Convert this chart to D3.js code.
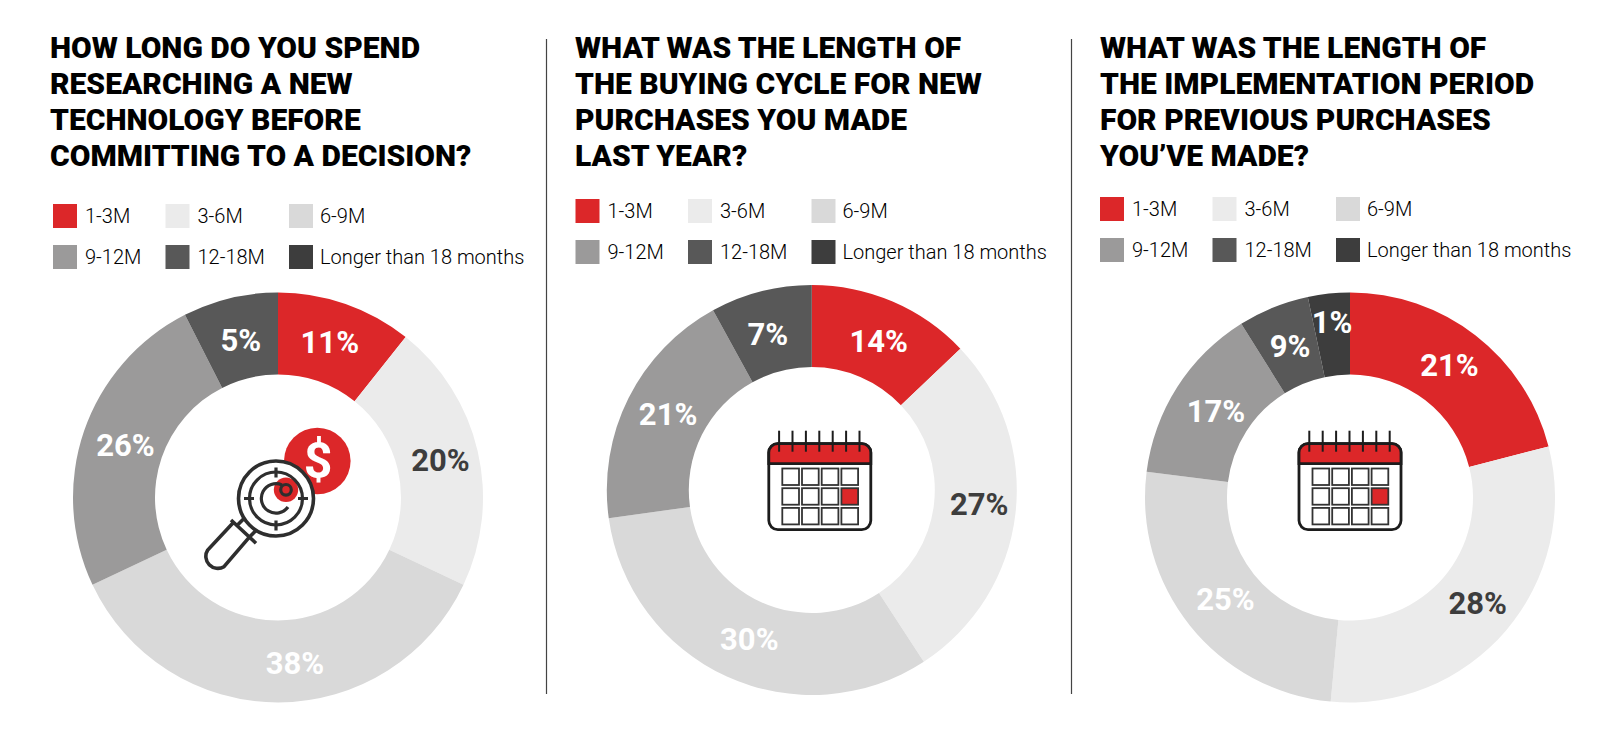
<!DOCTYPE html>
<html>
<head>
<meta charset="utf-8">
<script src="https://cdn.jsdelivr.net/npm/d3@7"></script>
<style>
html, body { margin: 0; padding: 0; background: #fff; }
svg { display: block; }
text { font-family: Roboto, sans-serif; }
.title { font-size: 30px; font-weight: 900; fill: #000; }
.leg { font-size: 20px; font-weight: 300; fill: #000; }
.pct { font-size: 31px; font-weight: 700; text-anchor: middle; }
</style>
</head>
<body>
<svg id="chart" width="1620" height="736"></svg>
<script>
var categories = ["1-3M", "3-6M", "6-9M", "9-12M", "12-18M", "Longer than 18 months"];
var colors = ["#dc2729", "#ebebeb", "#d9d9d9", "#9b9a9a", "#585858", "#3d3d3d"];
var labelColors = ["#fff", "#3d3d3d", "#fff", "#fff", "#fff", "#fff"];

var titles1 = ["HOW LONG DO YOU SPEND", "RESEARCHING A NEW", "TECHNOLOGY BEFORE", "COMMITTING TO A DECISION?"];
var titles2 = ["WHAT WAS THE LENGTH OF", "THE BUYING CYCLE FOR NEW", "PURCHASES YOU MADE", "LAST YEAR?"];
var titles3 = ["WHAT WAS THE LENGTH OF", "THE IMPLEMENTATION PERIOD", "FOR PREVIOUS PURCHASES", "YOU\u2019VE MADE?"];

// printed percentages
var labels1 = [11, 20, 38, 26, 5, 0];
var labels2 = [14, 27, 30, 21, 7, 0];
var labels3 = [21, 28, 25, 17, 9, 1];

// slice sizes as measured on the picture (they differ a bit from the printed labels)
var sweep1 = [10.7, 21.3, 36, 24.5, 7.5, 0];
var sweep2 = [12.9, 27.9, 32, 19.2, 8, 0];
var sweep3 = [21, 30.5, 25.5, 14.1, 5.6, 3.3];

// the labels are not all on the slice centroid, small hand corrections
var nudge1 = [[-2.6, 0.5], [1.8, -0.2], [17, 0], [3.6, 0.7], [1.3, 3], [0, 0]];
var nudge2 = [[1.8, 2.4], [3.6, -5.8], [5.9, -1.1], [3.8, -1.8], [-3, 3.8], [0, 0]];
var nudge3 = [[-1.6, -2.6], [2.2, -2.2], [4.3, -2.2], [5, 2.5], [1.8, 1], [-0.9, -11.9]];

var panels = [
    {x: 50, legX: 53, legY: 0, cx: 278, cy: 497.5, titles: titles1, labels: labels1, sweep: sweep1, nudge: nudge1, icon: "search"},
    {x: 575, legX: 575.5, legY: -5, cx: 811.8, cy: 490, titles: titles2, labels: labels2, sweep: sweep2, nudge: nudge2, icon: "cal", calX: -43, calY: -59.3},
    {x: 1100, legX: 1100, legY: -7, cx: 1350, cy: 497.5, titles: titles3, labels: labels3, sweep: sweep3, nudge: nudge3, icon: "cal", calX: -51, calY: -66.8}
];

var svg = d3.select("#chart");
var outer = 205, inner = 123;

var pie = d3.pie().sort(null).value(function(d) { return d; });
var arc = d3.arc().innerRadius(inner).outerRadius(outer);
var labelArc = d3.arc().innerRadius(165).outerRadius(165);

// dividers
[546.5, 1071.5].forEach(function(x) {
    svg.append("line").attr("x1", x).attr("x2", x).attr("y1", 39).attr("y2", 694)
        .attr("stroke", "#444").attr("stroke-width", 1.2);
});

var colX = [0, 112.5, 236];
var colText = [32, 32, 31];
var rowY = [204, 245];

panels.forEach(function(p) {
    var g = svg.append("g");

    g.selectAll(".title").data(p.titles).enter().append("text")
        .attr("class", "title")
        .attr("x", p.x)
        .attr("y", function(d, i) { return 58 + i * 36; })
        .text(function(d) { return d; });

    // legend
    var leg = g.selectAll(".legitem").data(categories).enter().append("g")
        .attr("transform", function(d, i) {
            return "translate(" + (p.legX + colX[i % 3]) + "," + (rowY[Math.floor(i / 3)] + p.legY) + ")";
        });
    leg.append("rect").attr("width", 24).attr("height", 24)
        .attr("fill", function(d, i) { return colors[i]; });
    leg.append("text").attr("class", "leg")
        .attr("x", function(d, i) { return colText[i % 3]; })
        .attr("y", 19)
        .text(function(d) { return d; });

    // donut
    var donut = g.append("g").attr("transform", "translate(" + p.cx + "," + p.cy + ")");
    var slices = pie(p.sweep);
    donut.selectAll("path").data(slices).enter().append("path")
        .attr("d", arc)
        .attr("fill", function(d, i) { return colors[i]; });
    donut.selectAll(".pct").data(slices.filter(function(d, i) { return p.labels[i] > 0; })).enter().append("text")
        .attr("class", "pct")
        .attr("transform", function(d) {
            var c = labelArc.centroid(d), n = p.nudge[d.index];
            return "translate(" + (c[0] + n[0]) + "," + (c[1] + n[1]) + ")";
        })
        .attr("dy", "0.36em")
        .attr("fill", function(d) { return labelColors[d.index]; })
        .text(function(d) { return p.labels[d.index] + "%"; });

    if (p.icon === "cal") drawCalendar(donut, p.calX, p.calY); else drawSearch(donut);
});

function drawCalendar(g, x0, y0) {
    var c = g.append("g").attr("transform", "translate(" + x0 + "," + y0 + ")");
    var w = 102, h = 86, top = 12.9, ink = "#1c1c1c";
    c.append("rect").attr("x", 0).attr("y", top).attr("width", w).attr("height", h).attr("rx", 9)
        .attr("fill", "#fff").attr("stroke", ink).attr("stroke-width", 2.8);
    c.append("path")
        .attr("d", "M0," + (top + 20) + "V" + (top + 9) + "A9,9 0 0 1 9," + top + "H" + (w - 9) + "A9,9 0 0 1 " + w + "," + (top + 9) + "V" + (top + 20) + "Z")
        .attr("fill", "#dc2729").attr("stroke", ink).attr("stroke-width", 2.8);
    d3.range(7).forEach(function(i) {
        var x = 10.3 + i * 13.4;
        c.append("line").attr("x1", x).attr("x2", x).attr("y1", 0).attr("y2", 21)
            .attr("stroke", ink).attr("stroke-width", 2);
    });
    d3.range(3).forEach(function(r) {
        d3.range(4).forEach(function(k) {
            c.append("rect")
                .attr("x", 13.5 + k * 19.7).attr("y", 37.8 + r * 19.7)
                .attr("width", 16.7).attr("height", 16.5)
                .attr("fill", r === 1 && k === 3 ? "#dc2729" : "#fff")
                .attr("stroke", "#333").attr("stroke-width", 1.8);
        });
    });
}

function drawSearch(g) {
    // coordinates relative to donut centre; lens sits left of and under the coin
    var ink = "#2e2e2e";
    var s = g.append("g");
    s.append("circle").attr("cx", 39.3).attr("cy", -36.5).attr("r", 33.3).attr("fill", "#dc2729");
    s.append("text").attr("x", 40).attr("y", -20).attr("text-anchor", "middle")
        .attr("font-size", 50).attr("font-weight", 700).attr("fill", "#fff").text("$");
    // neck, handle and crossbar
    s.append("path")
        .attr("d", "M-40,27L-31,18M-29,40L-20,31M-47,22.5L-22,45.8M-45.3,25.8L-70.3,52.5A12,12 0 0 0 -54,69.2L-29.7,40.8")
        .attr("fill", "none").attr("stroke", ink).attr("stroke-width", 3.6);
    var lens = s.append("g").attr("transform", "translate(-2,1)");
    lens.append("circle").attr("r", 37.5).attr("fill", "#fff").attr("stroke", ink).attr("stroke-width", 3.6);
    lens.append("circle").attr("cx", 10).attr("cy", -8.7).attr("r", 12.2).attr("fill", "#dc2729");
    lens.append("circle").attr("r", 26.5).attr("fill", "none").attr("stroke", ink).attr("stroke-width", 3.2);
    lens.append("path").attr("d", "M6,-13.5A14.7,14.7 0 1 0 12,8.5").attr("fill", "none").attr("stroke", ink).attr("stroke-width", 3.2);
    lens.append("circle").attr("cx", 10).attr("cy", -8.7).attr("r", 5.3).attr("fill", "none").attr("stroke", ink).attr("stroke-width", 3.2);
    lens.append("path").attr("d", "M-32,0H-22M22,0H32M0,-31V-21M0,22V32").attr("stroke", ink).attr("stroke-width", 3.2).attr("fill", "none");
}
</script>
</body>
</html>
